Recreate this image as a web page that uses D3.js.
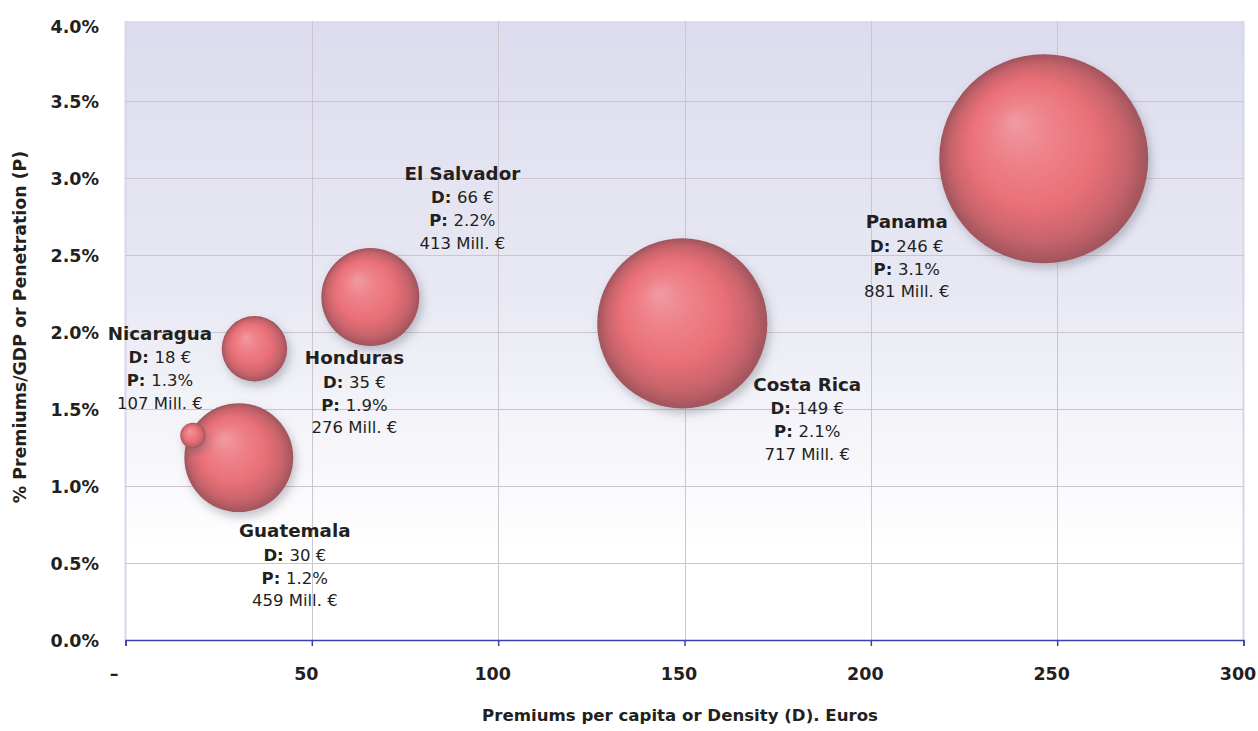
<!DOCTYPE html>
<html>
<head>
<meta charset="utf-8">
<script src="https://cdn.jsdelivr.net/npm/d3@7"></script>
<style>
  html, body { margin: 0; padding: 0; background: #ffffff; }
  svg { display: block; font-family: "DejaVu Sans", Roboto, sans-serif; }
</style>
</head>
<body>
<svg id="chart" width="1258" height="731"></svg>
<script>
// Central American insurance markets: density (premiums per capita, €),
// penetration (premiums / GDP, %) and total premium volume (Mill. €).
const countries = ["Panama", "Costa Rica", "Guatemala", "El Salvador", "Honduras", "Nicaragua"];
const density   = [246.4, 149.4, 30.4, 65.7, 34.6, 18.1];
const penetration = [3.125, 2.056, 1.184, 2.227, 1.891, 1.328];
const premiums  = [881, 717, 459, 413, 276, 107];

const xTicks = [0, 50, 100, 150, 200, 250, 300];
const yTicks = [0, 0.5, 1, 1.5, 2, 2.5, 3, 3.5, 4];

// Label placement around each bubble (pixel offset of the name line)
const labelOffset = {
  "Panama":      [-137, 63],
  "Costa Rica":  [125, 61],
  "Guatemala":   [56, 73],
  "El Salvador": [92, -124],
  "Honduras":    [100, 9],
  "Nicaragua":   [-33, -102]
};

const data = countries.map((c, i) => ({
  name: c, d: density[i], p: penetration[i], v: premiums[i]
}));

const svg = d3.select("#chart");
const plotLeft = 125.5, plotRight = 1243.5, plotTop = 24, plotBottom = 640, bgTop = 21;

const x = d3.scaleLinear().domain([0, 300]).range([plotLeft, plotRight]);
const y = d3.scaleLinear().domain([0, 4]).range([plotBottom, plotTop]);
const r = d3.scaleLinear().domain([0, 881]).range([0, 104.5]);

const defs = svg.append("defs");

// Plot background: lavender fading to white
const bg = defs.append("linearGradient").attr("id", "plotBg")
  .attr("x1", 0).attr("y1", 0).attr("x2", 0).attr("y2", 1);
bg.append("stop").attr("offset", "0%").attr("stop-color", "#dcdcee");
bg.append("stop").attr("offset", "45%").attr("stop-color", "#e9e9f4");
bg.append("stop").attr("offset", "85%").attr("stop-color", "#ffffff");
bg.append("stop").attr("offset", "100%").attr("stop-color", "#ffffff");

// Shaded sphere fill
const sphere = defs.append("radialGradient").attr("id", "sphere")
  .attr("cx", "0.5").attr("cy", "0.5").attr("r", "0.5")
  .attr("fx", "0.36").attr("fy", "0.32");
sphere.append("stop").attr("offset", "0%").attr("stop-color", "#f09aa2");
sphere.append("stop").attr("offset", "30%").attr("stop-color", "#ee8189");
sphere.append("stop").attr("offset", "60%").attr("stop-color", "#ea7078");
sphere.append("stop").attr("offset", "85%").attr("stop-color", "#c7636b");
sphere.append("stop").attr("offset", "100%").attr("stop-color", "#a0545c");

const shadow = defs.append("filter").attr("id", "shadow")
  .attr("x", "-30%").attr("y", "-30%").attr("width", "160%").attr("height", "160%");
shadow.append("feDropShadow").attr("dx", 3).attr("dy", 5).attr("stdDeviation", 5)
  .attr("flood-color", "#5a5a6a").attr("flood-opacity", 0.35);

svg.append("rect")
  .attr("x", plotLeft).attr("y", bgTop)
  .attr("width", plotRight - plotLeft).attr("height", plotBottom - bgTop)
  .attr("fill", "url(#plotBg)");

// Side borders of the plot area
svg.append("line").attr("x1", plotLeft).attr("x2", plotLeft).attr("y1", bgTop).attr("y2", plotBottom)
  .attr("stroke", "#d6d6ec").attr("stroke-width", 2);
svg.append("line").attr("x1", plotRight).attr("x2", plotRight).attr("y1", bgTop).attr("y2", plotBottom)
  .attr("stroke", "#d6d6ec").attr("stroke-width", 2);

// Gridlines
const grid = svg.append("g").attr("stroke", "#c8c8cc").attr("stroke-width", 1);
grid.selectAll(".hg").data(yTicks.filter(t => t > 0 && t < 4)).join("line")
  .attr("x1", plotLeft).attr("x2", plotRight)
  .attr("y1", d => Math.round(y(d)) + 0.5).attr("y2", d => Math.round(y(d)) + 0.5);
grid.selectAll(".vg").data(xTicks.filter(t => t > 0 && t < 300)).join("line")
  .attr("y1", bgTop).attr("y2", plotBottom)
  .attr("x1", d => Math.round(x(d)) + 0.5).attr("x2", d => Math.round(x(d)) + 0.5);

// X axis
const xAxis = d3.axisBottom(x).tickValues(xTicks).tickSize(6).tickPadding(22)
  .tickFormat(d => d === 0 ? "–" : d3.format("d")(d));
const gx = svg.append("g").attr("transform", `translate(0,${plotBottom})`).call(xAxis);
gx.attr("font-family", null);
gx.select(".domain").attr("stroke", "#3a40b0").attr("stroke-width", 1.5);
gx.selectAll(".tick line").attr("stroke", "#3a40b0").attr("stroke-width", 1.5);
gx.selectAll(".tick text")
  .attr("fill", "#231f20").attr("font-size", 17.5).attr("font-weight", "bold")
  .attr("dx", d => d === 0 ? -12 : -6);

// Y axis labels
const gy = svg.append("g");
gy.selectAll("text").data(yTicks).join("text")
  .attr("x", 99).attr("y", d => y(d) + (d === 4 ? 3 : 1))
  .attr("text-anchor", "end").attr("dominant-baseline", "central")
  .attr("fill", "#231f20").attr("font-size", 17.5).attr("font-weight", "bold")
  .text(d => d3.format(".1f")(d) + "%");

// Axis titles
svg.append("text")
  .attr("x", 680).attr("y", 721).attr("text-anchor", "middle")
  .attr("fill", "#231f20").attr("font-size", 16.6).attr("font-weight", "bold")
  .text("Premiums per capita or Density (D). Euros");
svg.append("text")
  .attr("transform", "translate(20,327) rotate(-90)")
  .attr("text-anchor", "middle").attr("dominant-baseline", "central")
  .attr("fill", "#231f20").attr("font-size", 17.4).attr("font-weight", "bold")
  .text("% Premiums/GDP or Penetration (P)");

// Bubbles, largest first so small ones sit on top
const sorted = data.slice().sort((a, b) => b.v - a.v);
svg.append("g").selectAll("circle").data(sorted).join("circle")
  .attr("cx", d => x(d.d)).attr("cy", d => y(d.p)).attr("r", d => r(d.v))
  .attr("fill", "url(#sphere)").attr("filter", "url(#shadow)");

// Labels
const lab = svg.append("g").attr("fill", "#231f20").attr("text-anchor", "middle");
data.forEach(d => {
  const [ox, oy] = labelOffset[d.name];
  const cx = x(d.d) + ox, cy = y(d.p) + oy;
  const g = lab.append("g");
  g.append("text").attr("x", cx).attr("y", cy).attr("dominant-baseline", "central")
    .attr("font-size", 18.3).attr("font-weight", "bold").text(d.name);
  const t1 = g.append("text").attr("x", cx).attr("y", cy + 24).attr("dominant-baseline", "central")
    .attr("font-size", 16.5);
  t1.append("tspan").attr("font-weight", "bold").text("D: ");
  t1.append("tspan").text(d3.format(".0f")(d.d) + " €");
  const t2 = g.append("text").attr("x", cx).attr("y", cy + 47).attr("dominant-baseline", "central")
    .attr("font-size", 16.5);
  t2.append("tspan").attr("font-weight", "bold").text("P: ");
  t2.append("tspan").text(d3.format(".1f")(d.p) + "%");
  g.append("text").attr("x", cx).attr("y", cy + 70).attr("dominant-baseline", "central")
    .attr("font-size", 16.5).text(d.v + " Mill. €");
});
</script>
</body>
</html>
